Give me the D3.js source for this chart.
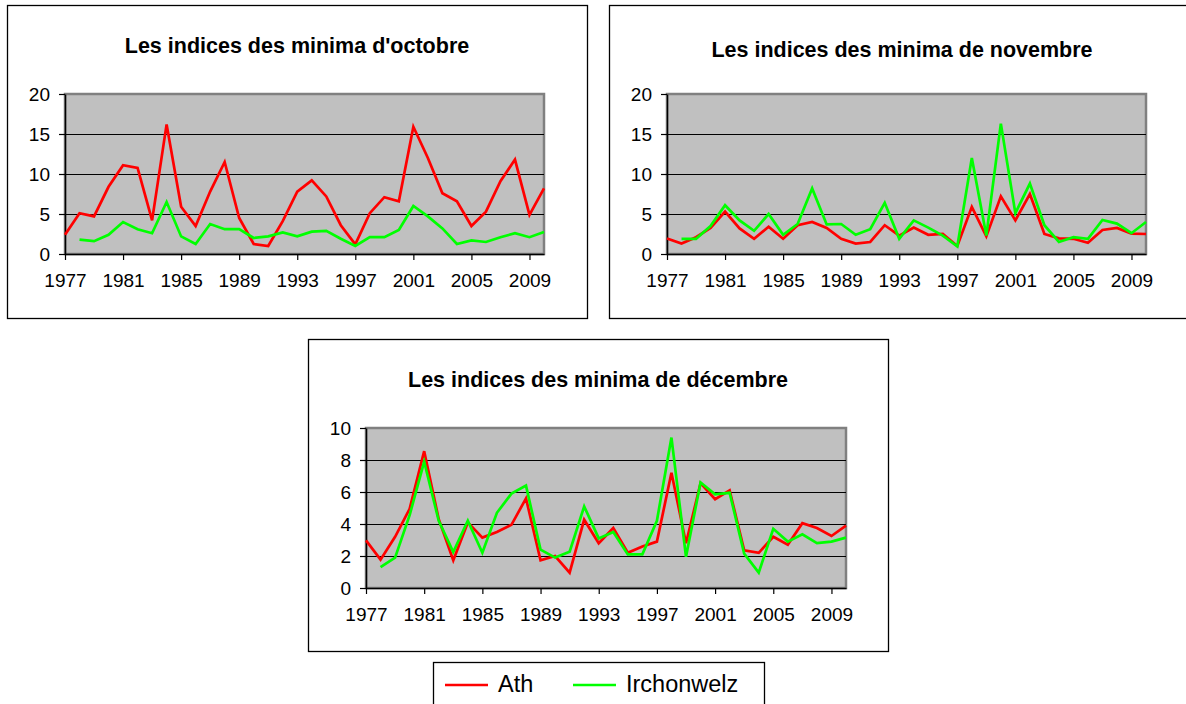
<!DOCTYPE html>
<html>
<head>
<meta charset="utf-8">
<script src="https://cdn.jsdelivr.net/npm/d3@7"></script>
<style>
  body { margin: 0; background: #fff; }
  svg { display: block; font-family: Arial, "Liberation Sans", sans-serif; }
</style>
</head>
<body>
<div id="chart"></div>
<script>
// ------------------------------------------------------------
// Data
// ------------------------------------------------------------
const years = [1977, 1978, 1979, 1980, 1981, 1982, 1983, 1984, 1985, 1986, 1987,
               1988, 1989, 1990, 1991, 1992, 1993, 1994, 1995, 1996, 1997, 1998,
               1999, 2000, 2001, 2002, 2003, 2004, 2005, 2006, 2007, 2008, 2009, 2010];
const yearLabels = [1977, 1981, 1985, 1989, 1993, 1997, 2001, 2005, 2009];

const octAth  = [2.4, 5.1, 4.7, 8.4, 11.1, 10.75, 4.2, 16.2, 5.9, 3.5, 7.8,
                 11.5, 4.5, 1.25, 1.0, 4.1, 7.8, 9.2, 7.2, 3.6, 1.2, 5.1,
                 7.1, 6.6, 15.9, 12.0, 7.6, 6.6, 3.5, 5.3, 9.1, 11.8, 4.9, 8.2];
const octIrch = [null, 1.8, 1.6, 2.4, 4.0, 3.1, 2.6, 6.5, 2.2, 1.25, 3.75,
                 3.1, 3.1, 2.0, 2.2, 2.7, 2.2, 2.8, 2.9, 1.9, 1.0, 2.1,
                 2.1, 3.0, 6.0, 4.7, 3.2, 1.25, 1.7, 1.5, 2.1, 2.6, 2.1, 2.75];

const novAth  = [1.95, 1.3, 2.1, 3.25, 5.3, 3.2, 1.9, 3.4, 1.9, 3.6, 4.0,
                 3.25, 1.9, 1.3, 1.5, 3.6, 2.3, 3.3, 2.4, 2.5, 1.0, 5.9,
                 2.2, 7.2, 4.2, 7.5, 2.5, 1.95, 1.9, 1.4, 3.0, 3.25, 2.55, 2.5];
const novIrch = [null, 1.9, 1.9, 3.5, 6.1, 4.2, 2.9, 5.0, 2.4, 3.75, 8.2,
                 3.7, 3.75, 2.4, 3.1, 6.4, 1.9, 4.2, 3.3, 2.3, 0.95, 12.0,
                 2.3, 16.3, 5.1, 8.8, 3.6, 1.5, 2.1, 1.9, 4.25, 3.8, 2.6, 4.0];

const decAth  = [2.98, 1.77, 3.2, 4.95, 8.55, 4.3, 1.73, 4.1, 3.15, 3.5, 3.95,
                 5.6, 1.73, 2.0, 0.96, 4.27, 2.8, 3.75, 2.2, 2.6, 2.9, 7.2,
                 2.8, 6.55, 5.55, 6.1, 2.35, 2.2, 3.2, 2.7, 4.05, 3.75, 3.25, 3.9];
const decIrch = [null, 1.3, 1.9, 4.55, 7.9, 4.2, 2.25, 4.2, 2.2, 4.7, 5.9,
                 6.4, 2.4, 1.9, 2.27, 5.1, 3.1, 3.5, 2.1, 2.1, 4.2, 9.4,
                 1.95, 6.6, 5.85, 5.95, 2.15, 0.96, 3.7, 2.9, 3.35, 2.8, 2.9, 3.15];

const seriesNames = ["Ath", "Irchonwelz"];
const seriesColors = ["#ff0000", "#00ff00"];

// ------------------------------------------------------------
// Layout
// ------------------------------------------------------------
const width = 1186;
const height = 704;

const panels = [
    { title: "Les indices des minima d'octobre", series: [octAth, octIrch],
      box: [7, 5, 587, 318], plot: [65, 94, 544, 254], titleX: 297, titleY: 53,
      yMax: 20, yTicks: [0, 5, 10, 15, 20] },
    { title: "Les indices des minima de novembre", series: [novAth, novIrch],
      box: [609, 5, 1190, 318], plot: [667, 94, 1146, 254], titleX: 902, titleY: 57,
      yMax: 20, yTicks: [0, 5, 10, 15, 20] },
    { title: "Les indices des minima de décembre", series: [decAth, decIrch],
      box: [308, 339, 888, 651], plot: [366, 428, 846, 588], titleX: 598, titleY: 387,
      yMax: 10, yTicks: [0, 2, 4, 6, 8, 10] }
];

const svg = d3.select("#chart").append("svg")
    .attr("width", width)
    .attr("height", height);

// ------------------------------------------------------------
// One chart per panel
// ------------------------------------------------------------
function drawPanel(p) {
    const [bx0, by0, bx1, by1] = p.box;
    const [px0, py0, px1, py1] = p.plot;
    const g = svg.append("g");

    // outer frame
    g.append("rect")
        .attr("x", bx0 + 0.5).attr("y", by0 + 0.5)
        .attr("width", bx1 - bx0).attr("height", by1 - by0)
        .attr("fill", "#fff")
        .attr("stroke", "#000")
        .attr("stroke-width", 1.3);

    g.append("text")
        .attr("x", p.titleX).attr("y", p.titleY)
        .attr("text-anchor", "middle")
        .style("font-size", "21.5px")
        .style("font-weight", "bold")
        .text(p.title);

    const x = d3.scalePoint().domain(years).range([px0, px1]);
    const y = d3.scaleLinear().domain([0, p.yMax]).range([py1, py0]);

    // plot area
    g.append("rect")
        .attr("x", px0).attr("y", py0)
        .attr("width", px1 - px0).attr("height", py1 - py0)
        .attr("fill", "#c0c0c0")
        .attr("stroke", "#808080")
        .attr("stroke-width", 2.5);

    // gridlines
    g.append("g")
        .selectAll("line")
        .data(p.yTicks.filter(t => t > 0 && t < p.yMax))
        .join("line")
        .attr("x1", px0).attr("x2", px1)
        .attr("y1", d => Math.round(y(d)) + 0.5)
        .attr("y2", d => Math.round(y(d)) + 0.5)
        .attr("stroke", "#000")
        .attr("stroke-width", 1);

    // axes
    const yAxis = g.append("g")
        .attr("transform", `translate(${px0},0)`)
        .call(d3.axisLeft(y).tickValues(p.yTicks).tickSize(6).tickPadding(9).tickSizeOuter(0));
    const xAxis = g.append("g")
        .attr("transform", `translate(0,${py1})`)
        .call(d3.axisBottom(x).tickValues(yearLabels).tickSize(6).tickPadding(14).tickSizeOuter(0));
    [yAxis, xAxis].forEach(ax => {
        ax.select(".domain").attr("stroke", "#000").attr("stroke-width", 1.5);
        ax.selectAll(".tick line").attr("stroke", "#000").attr("stroke-width", 1.2);
        ax.selectAll(".tick text")
            .attr("fill", "#000")
            .style("font-size", "19px")
            .style("font-family", "Arial, 'Liberation Sans', sans-serif");
    });

    // series lines
    const line = d3.line()
        .defined(d => d[1] != null)
        .x(d => x(d[0]))
        .y(d => y(d[1]));

    p.series.forEach((vals, i) => {
        g.append("path")
            .datum(years.map((yr, k) => [yr, vals[k]]))
            .attr("fill", "none")
            .attr("stroke", seriesColors[i])
            .attr("stroke-width", 2.7)
            .attr("stroke-linejoin", "miter")
            .attr("d", line);
    });
}

panels.forEach(drawPanel);

// ------------------------------------------------------------
// Shared legend
// ------------------------------------------------------------
const legend = svg.append("g");
legend.append("rect")
    .attr("x", 433.5).attr("y", 662.5)
    .attr("width", 331).attr("height", 60)
    .attr("fill", "#fff")
    .attr("stroke", "#000")
    .attr("stroke-width", 1.3);

const legendX = [445, 573];
seriesNames.forEach((name, i) => {
    legend.append("line")
        .attr("x1", legendX[i]).attr("x2", legendX[i] + 43)
        .attr("y1", 685).attr("y2", 685)
        .attr("stroke", seriesColors[i])
        .attr("stroke-width", 2.5);
    legend.append("text")
        .attr("x", legendX[i] + 53).attr("y", 692)
        .style("font-size", "23.5px")
        .text(name);
});
</script>
</body>
</html>
